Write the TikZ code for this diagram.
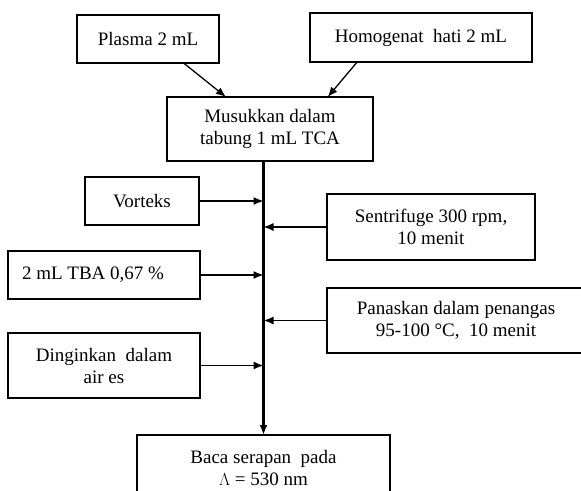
\documentclass[tikz,border=0pt]{standalone}
\usepackage{fontspec}
\setmainfont{Liberation Serif}
\usetikzlibrary{arrows.meta}
\tikzset{kotak/.style = {draw, line width = 1.5pt, inner sep = 0pt, outer sep = 0pt, align = center, font = \fontsize{19}{22}\selectfont},
	panah/.style = {-{Latex[length = 10pt, width = 8pt]}, line width = 1.3pt}}

\begin{document}
\begin{tikzpicture}[x = 1pt, y = -1pt]
					
					\clip (0,0) rectangle (581,490);
					
					\node[kotak, minimum width = 142pt, minimum height = 48pt] (plasma) at (148,39) {Plasma 2 mL};
					\node[kotak, minimum width = 222pt, minimum height = 49pt] (hati) at (421,37.5) {Homogenat\ \ hati 2 mL};
					\node[kotak, minimum width = 206pt, minimum height = 64pt] (musukkan) at (270,129) {Musukkan dalam\\tabung 1 mL TCA};
					
					\node[kotak, minimum width = 114pt, minimum height = 48pt] (vorteks) at (142,201) {Vorteks};
					\node[kotak, minimum width = 192pt, minimum height = 48pt, text width = 164pt, align = flush left] (tba) at (104,275) {2 mL TBA 0,67 \%};
					\node[kotak, minimum width = 192pt, minimum height = 65pt] (dingin) at (104,365.5) {Dinginkan\ \ dalam\\air es};
					
					\node[kotak, minimum width = 208pt, minimum height = 66pt] (sentrifuge) at (431,227) {Sentrifuge 300 rpm,\\10 menit};
					\node[kotak, minimum width = 258pt, minimum height = 65pt] (panaskan) at (456,320.5) {Panaskan dalam penangas\\95-100 °C,\ \ 10 menit};
					
					\node[kotak, minimum width = 253pt, minimum height = 65pt] (baca) at (263.5,467.5) {Baca serapan\ \ pada\\$\Lambda$ = 530 nm};
					
					\draw[panah] (plasma.-34) -- (musukkan.144);
					\draw[panah] (hati.-159) -- (musukkan.29);
					
					\draw[panah, line width = 2.3pt] (baca.north |- musukkan.south) -- (baca.north);
					
					\draw[panah] (vorteks.east) -- (vorteks.east -| baca.north);
					\draw[panah] (tba.east) -- (tba.east -| baca.north);
					\draw[panah] (dingin.east) -- (dingin.east -| baca.north);
					
					\draw[panah] (sentrifuge.west) -- (sentrifuge.west -| baca.north);
					\draw[panah] (panaskan.west) -- (panaskan.west -| baca.north);
					
\end{tikzpicture}
\end{document}
